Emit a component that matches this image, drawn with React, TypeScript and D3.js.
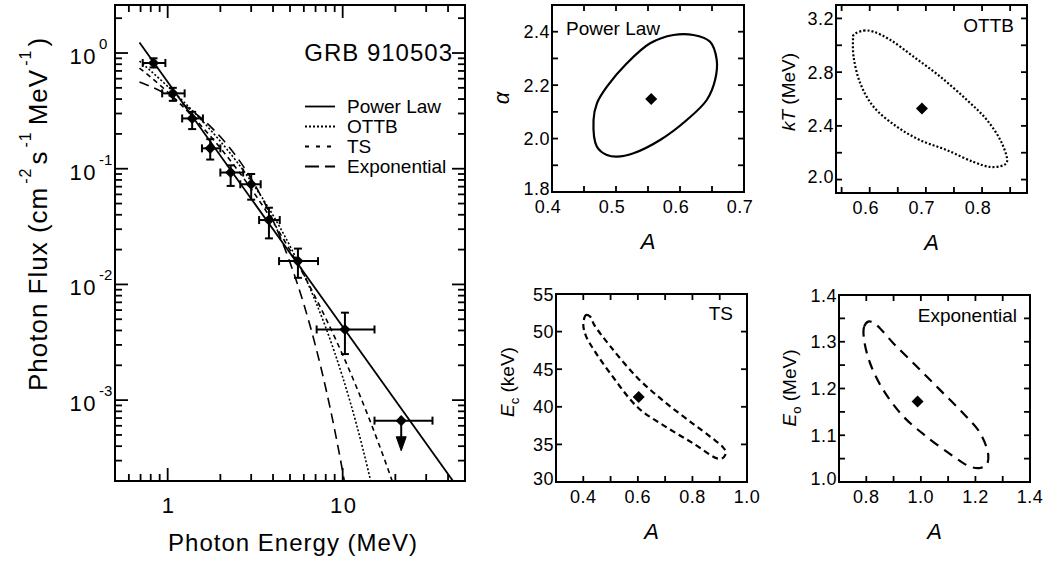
import React from "react";
import * as d3 from "d3";

const FONT = "'Liberation Sans', Arial, Helvetica, sans-serif";

// ---------------- Spectrum of GRB 910503 ----------------
const energy = [0.83, 1.07, 1.38, 1.75, 2.29, 3.0, 3.79, 5.55, 10.3];
const flux = [0.82, 0.448, 0.272, 0.15, 0.0927, 0.0734, 0.036, 0.0159, 0.00408];
const energyLow = [0.72, 0.93, 1.21, 1.57, 2.0, 2.6, 3.33, 4.33, 7.1];
const energyHigh = [0.97, 1.25, 1.59, 2.0, 2.7, 3.4, 4.37, 7.23, 15.2];
const fluxLow = [0.75, 0.386, 0.22, 0.12, 0.071, 0.054, 0.025, 0.0114, 0.0025];
const fluxHigh = [0.9, 0.5, 0.31, 0.18, 0.107, 0.09, 0.046, 0.0204, 0.0057];

// upper limit point
const limitEnergy = [21.6];
const limitEnergyLow = [15.2];
const limitEnergyHigh = [32.6];
const limitFlux = [6.65e-4];
const limitArrowTip = [3.65e-4];

// ---------------- Model curves ----------------
const plEnergy = [0.69, 45];
const plFlux = [1.233, 1.79e-4];

const ottbEnergy = [0.69, 0.8, 1, 1.25, 1.5, 2, 2.5, 3, 4, 5, 6, 7, 8, 9, 10, 11, 12, 13, 14, 15];
const ottbFlux = [0.85, 0.7, 0.515, 0.372, 0.2806, 0.1725, 0.1134, 0.0777, 0.03955, 0.0215, 0.0122, 0.00712,
  0.004248, 0.002576, 0.001581, 0.000982, 0.000614, 0.000387, 0.000245, 0.0001566];

const tsEnergy = [0.69, 0.8, 1, 1.25, 1.5, 2, 2.5, 3, 4, 5, 6, 7, 8, 9, 10, 12, 14, 16, 18, 20];
const tsFlux = [0.741, 0.618, 0.46, 0.3325, 0.2491, 0.1509, 0.0982, 0.0671, 0.0347, 0.01976, 0.01203, 0.00769,
  0.00511, 0.0035, 0.002461, 0.001293, 0.000725, 0.000428, 0.000263, 0.0001668];

const expEnergy = [0.69, 0.8, 1, 1.25, 1.5, 2, 2.5, 3, 4, 5, 6, 7, 8, 9, 10, 11];
const expFlux = [0.5627, 0.5134, 0.4346, 0.3529, 0.2865, 0.1889, 0.1245, 0.0821, 0.03567, 0.0155, 0.006738,
  0.002928, 0.001273, 0.000553, 0.0002404, 0.0001045];

const legendNames = ["Power Law", "OTTB", "TS", "Exponential"];
const mainYLabelValues = [1, 0.1, 0.01, 0.001];
const mainYLabelExps = ["0", "-1", "-2", "-3"];
const mainXLabelValues = [1, 10];
const mainXLabels = ["1", "10"];

// ---------------- Confidence contours ----------------
const plContourA = [0.4649, 0.4702, 0.4858, 0.5014, 0.5273, 0.5689, 0.6106, 0.6418, 0.6548, 0.6574, 0.647, 0.6209,
  0.5897, 0.5533, 0.517, 0.4858, 0.4702];
const plContourAlpha = [2.0695, 1.9696, 1.9385, 1.9321, 1.9449, 1.9946, 2.0695, 2.1444, 2.2192, 2.2941, 2.3626,
  2.3877, 2.3877, 2.3566, 2.2817, 2.1941, 2.132];
const plBest = [0.555, 2.148];
const plXTicks = [0.45, 0.5, 0.55, 0.6, 0.65];
const plXLabels = [0.4, 0.5, 0.6, 0.7];
const plYTicks = [1.9, 2.0, 2.1, 2.2, 2.3, 2.4];
const plYLabels = [1.8, 2.0, 2.2, 2.4];

const ottbContourA = [0.5713, 0.5891, 0.6069, 0.6367, 0.6781, 0.7256, 0.7732, 0.8088, 0.8355, 0.8444, 0.8383,
  0.8147, 0.7849, 0.7376, 0.6901, 0.6486, 0.6069, 0.5833, 0.5713, 0.5703];
const ottbContourKT = [3.077, 3.109, 3.101, 3.04, 2.915, 2.766, 2.592, 2.443, 2.269, 2.131, 2.107, 2.094, 2.131,
  2.219, 2.293, 2.393, 2.542, 2.716, 2.915, 3.04];
const ottbBest = [0.693, 2.53];
const ottbXTicks = [0.55, 0.6, 0.65, 0.7, 0.75, 0.8, 0.85];
const ottbXLabels = [0.6, 0.7, 0.8];
const ottbYTicks = [2.0, 2.2, 2.4, 2.6, 2.8, 3.0, 3.2];
const ottbYLabels = [2.0, 2.4, 2.8, 3.2];

const tsContourA = [0.4, 0.41, 0.425, 0.44, 0.5, 0.6, 0.7, 0.8, 0.87, 0.91, 0.922, 0.915, 0.895, 0.8, 0.7, 0.6, 0.5,
  0.44, 0.41];
const tsContourEc = [51.0, 52.2, 52.0, 50.9, 48.0, 43.8, 40.6, 37.8, 35.9, 34.7, 34.0, 33.3, 33.1, 35.2, 37.4, 39.9,
  44.4, 47.5, 49.4];
const tsBest = [0.603, 41.3];
const tsXTicks = [0.4, 0.5, 0.6, 0.7, 0.8, 0.9];
const tsXLabels = [0.4, 0.6, 0.8, 1.0];
const tsYTicks = [35, 40, 45, 50];
const tsYLabels = [30, 35, 40, 45, 50, 55];

const expContourA = [0.807, 0.792, 0.792, 0.814, 0.862, 0.936, 1.021, 1.119, 1.18, 1.217, 1.241, 1.247, 1.217, 1.155,
  1.07, 0.985, 0.899, 0.85, 0.826];
const expContourE0 = [1.343, 1.332, 1.304, 1.254, 1.197, 1.14, 1.097, 1.055, 1.033, 1.03, 1.037, 1.058, 1.105, 1.147,
  1.197, 1.247, 1.297, 1.329, 1.341];
const expBest = [0.988, 1.172];
const expXTicks = [0.8, 0.9, 1.0, 1.1, 1.2, 1.3];
const expXLabels = [0.8, 1.0, 1.2, 1.4];
const expYTicks = [1.05, 1.1, 1.15, 1.2, 1.25, 1.3, 1.35];
const expYLabels = [1.0, 1.1, 1.2, 1.3, 1.4];

// ---------------- styles ----------------
const PLOT_DASH = { pl: "none", ottb: "2,2", ts: "5,4", exp: "10,6" };
const LEGEND_DASH = ["none", "2,2", "4,7", "14,6"];

const diamond = d3.symbol(d3.symbolSquare, 62)() as string;
const diamondBig = d3.symbol(d3.symbolSquare, 72)() as string;

type PanelProps = {
  x0: number; y0: number; w: number; h: number;
  xDomain: [number, number]; yDomain: [number, number];
  xTicks: number[]; yTicks: number[]; xLabels: number[]; yLabels: number[];
  xFmt: (n: number) => string; yFmt: (n: number) => string;
  xLabelShift: number;
  cx: number[]; cy: number[]; best: number[]; dash: string;
  name: string; nameX: number; nameY: number; nameAnchor: "start" | "end";
  yTitle: React.ReactNode;
};

function Panel(p: PanelProps) {
  const xs = d3.scaleLinear().domain(p.xDomain).range([p.x0, p.x0 + p.w]);
  const ys = d3.scaleLinear().domain(p.yDomain).range([p.y0 + p.h, p.y0]);
  const tl = 6;
  const pts: [number, number][] = p.cx.map((a, i) => [xs(a), ys(p.cy[i])]);
  const path = d3.line().curve(d3.curveCatmullRomClosed.alpha(0.5))(pts) as string;
  const allX = Array.from(new Set([...p.xTicks, ...p.xLabels])).filter(
    (t) => t > p.xDomain[0] + 1e-9 && t < p.xDomain[1] - 1e-9
  );
  const allY = Array.from(new Set([...p.yTicks, ...p.yLabels])).filter(
    (t) => t > p.yDomain[0] + 1e-9 && t < p.yDomain[1] - 1e-9
  );
  const bottom = p.y0 + p.h;
  const right = p.x0 + p.w;
  return (
    <g>
      <path d={path} fill="none" stroke="#000" strokeWidth={2.2} strokeDasharray={p.dash} />
      <path d={diamondBig} transform={`translate(${xs(p.best[0])},${ys(p.best[1])}) rotate(45)`} fill="#000" />
      {allX.map((t, i) => (
        <g key={"xt" + i}>
          <line x1={xs(t)} x2={xs(t)} y1={bottom} y2={bottom - tl} stroke="#000" strokeWidth={1.8} />
          <line x1={xs(t)} x2={xs(t)} y1={p.y0} y2={p.y0 + tl} stroke="#000" strokeWidth={1.8} />
        </g>
      ))}
      {allY.map((t, i) => (
        <g key={"yt" + i}>
          <line x1={p.x0} x2={p.x0 + tl} y1={ys(t)} y2={ys(t)} stroke="#000" strokeWidth={1.8} />
          <line x1={right} x2={right - tl} y1={ys(t)} y2={ys(t)} stroke="#000" strokeWidth={1.8} />
        </g>
      ))}
      <rect x={p.x0} y={p.y0} width={p.w} height={p.h} fill="none" stroke="#000" strokeWidth={2} />
      {p.xLabels.map((t, i) => (
        <text
          key={"xl" + i}
          x={xs(t) + p.xLabelShift}
          y={bottom + 21}
          textAnchor="middle"
          fontSize={18}
          letterSpacing={0.5}
        >
          {p.xFmt(t)}
        </text>
      ))}
      {p.yLabels.map((t, i) => (
        <text
          key={"yl" + i}
          x={p.x0 - 2}
          y={ys(t) + (i === 0 ? 3 : 6.5)}
          textAnchor="end"
          fontSize={18}
          letterSpacing={0.5}
        >
          {p.yFmt(t)}
        </text>
      ))}
      <text x={p.x0 + p.w / 2} y={bottom + 57} textAnchor="middle" fontSize={22} fontStyle="italic">
        A
      </text>
      <text x={p.nameX} y={p.nameY} textAnchor={p.nameAnchor} fontSize={19}>
        {p.name}
      </text>
      {p.yTitle}
    </g>
  );
}

export default function App() {
  const xMain = d3.scaleLog().domain([0.5, 50]).range([115, 465]);
  const yMain = d3.scaleLog().domain([2e-4, 2.6]).range([481, 5]);
  const X0 = 115, X1 = 465, Y0 = 5, Y1 = 481;

  const isMajor = (t: number) => Math.abs(Math.log10(t) - Math.round(Math.log10(t))) < 1e-6;
  const xT = xMain.ticks().filter((t) => t > 0.5 + 1e-9 && t < 50 - 1e-9);
  const yT = yMain.ticks().filter((t) => t > 2e-4 * 1.0001 && t < 2.6);

  const line = d3
    .line<[number, number]>()
    .x((d) => xMain(d[0]))
    .y((d) => yMain(d[1]))
    .curve(d3.curveMonotoneX);

  const curves = [
    { e: plEnergy, f: plFlux, dash: PLOT_DASH.pl, w: 1.8 },
    { e: ottbEnergy, f: ottbFlux, dash: PLOT_DASH.ottb, w: 1.6 },
    { e: tsEnergy, f: tsFlux, dash: PLOT_DASH.ts, w: 1.6 },
    { e: expEnergy, f: expFlux, dash: PLOT_DASH.exp, w: 1.6 },
  ];

  const f1 = d3.format(".1f");
  const fd = d3.format("d");

  return (
    <svg
      width={1045}
      height={562}
      style={{ position: "absolute", left: 0, top: 0, background: "#fff" }}
      fontFamily={FONT}
    >
      <rect x={0} y={0} width={1045} height={562} fill="#fff" />
      <defs>
        <clipPath id="mainclip">
          <rect x={X0} y={Y0} width={X1 - X0} height={Y1 - Y0} />
        </clipPath>
      </defs>

      {/* ---------- main spectrum ---------- */}
      <g clipPath="url(#mainclip)">
        {curves.map((c, i) => (
          <path
            key={i}
            d={line(d3.zip(c.e, c.f) as [number, number][]) as string}
            fill="none"
            stroke="#000"
            strokeWidth={c.w}
            strokeDasharray={c.dash}
          />
        ))}
      </g>

      {energy.map((e, i) => {
        const x = xMain(e), y = yMain(flux[i]);
        const xl = xMain(energyLow[i]), xh = xMain(energyHigh[i]);
        const yl = yMain(fluxLow[i]), yh = yMain(fluxHigh[i]);
        return (
          <g key={"pt" + i} stroke="#000" strokeWidth={2}>
            <line x1={xl} x2={xh} y1={y} y2={y} />
            <line x1={xl} x2={xl} y1={y - 4} y2={y + 4} />
            <line x1={xh} x2={xh} y1={y - 4} y2={y + 4} />
            <line x1={x} x2={x} y1={yl} y2={yh} />
            <line x1={x - 4} x2={x + 4} y1={yl} y2={yl} />
            <line x1={x - 4} x2={x + 4} y1={yh} y2={yh} />
            <path d={diamond} transform={`translate(${x},${y}) rotate(45)`} fill="#000" stroke="none" />
          </g>
        );
      })}

      {limitEnergy.map((e, i) => {
        const x = xMain(e), y = yMain(limitFlux[i]);
        const xl = xMain(limitEnergyLow[i]), xh = xMain(limitEnergyHigh[i]);
        const tip = yMain(limitArrowTip[i]);
        return (
          <g key={"ul" + i} stroke="#000" strokeWidth={2}>
            <line x1={xl} x2={xh} y1={y} y2={y} />
            <line x1={xl} x2={xl} y1={y - 4} y2={y + 4} />
            <line x1={xh} x2={xh} y1={y - 4} y2={y + 4} />
            <line x1={x} x2={x} y1={y} y2={tip - 12} />
            <path d={`M${x - 5},${tip - 14} L${x + 5},${tip - 14} L${x},${tip} Z`} fill="#000" strokeWidth={1} />
            <path d={diamond} transform={`translate(${x},${y}) rotate(45)`} fill="#000" stroke="none" />
          </g>
        );
      })}

      {/* ticks */}
      {xT.map((t, i) => {
        const len = isMajor(t) ? 13 : 7;
        return (
          <g key={"mx" + i} stroke="#000" strokeWidth={1.8}>
            <line x1={xMain(t)} x2={xMain(t)} y1={Y1} y2={Y1 - len} />
            <line x1={xMain(t)} x2={xMain(t)} y1={Y0} y2={Y0 + len} />
          </g>
        );
      })}
      {yT.map((t, i) => {
        const len = isMajor(t) ? 13 : 7;
        return (
          <g key={"my" + i} stroke="#000" strokeWidth={1.8}>
            <line x1={X0} x2={X0 + len} y1={yMain(t)} y2={yMain(t)} />
            <line x1={X1} x2={X1 - len} y1={yMain(t)} y2={yMain(t)} />
          </g>
        );
      })}
      <rect x={X0} y={Y0} width={X1 - X0} height={Y1 - Y0} fill="none" stroke="#000" strokeWidth={2} />

      {mainXLabelValues.map((v, i) => (
        <text key={"mxl" + i} x={xMain(v) + 1} y={513} textAnchor="middle" fontSize={22} letterSpacing={1.5}>
          {mainXLabels[i]}
        </text>
      ))}
      {mainYLabelValues.map((v, i) => (
        <g key={"myl" + i}>
          <text x={97} y={yMain(v) + 11} textAnchor="end" fontSize={22} letterSpacing={1.5}>
            10
          </text>
          <text x={99} y={yMain(v) - 4} textAnchor="start" fontSize={15}>
            {mainYLabelExps[i]}
          </text>
        </g>
      ))}

      <text x={293} y={551} textAnchor="middle" fontSize={24} letterSpacing={1}>
        Photon Energy (MeV)
      </text>
      <text transform="translate(47,214) rotate(-90)" textAnchor="middle" fontSize={26} letterSpacing={1}>
        Photon Flux (cm
        <tspan dx={3} dy={-16} fontSize={16}>-2</tspan>
        <tspan dx={3} dy={16}>s</tspan>
        <tspan dx={3} dy={-16} fontSize={16}>-1</tspan>
        <tspan dx={6} dy={16}>MeV</tspan>
        <tspan dx={3} dy={-16} fontSize={16}>-1</tspan>
        <tspan dx={3} dy={16}>)</tspan>
      </text>

      <text x={453} y={61} textAnchor="end" fontSize={24} letterSpacing={1}>
        GRB 910503
      </text>

      {legendNames.map((n, i) => (
        <g key={"lg" + i}>
          <line
            x1={305}
            x2={335}
            y1={106.5 + i * 20}
            y2={106.5 + i * 20}
            stroke="#000"
            strokeWidth={1.8}
            strokeDasharray={LEGEND_DASH[i]}
          />
          <text x={347} y={113 + i * 20} fontSize={19}>
            {n}
          </text>
        </g>
      ))}

      {/* ---------- contour panels ---------- */}
      <Panel
        x0={552} y0={5} w={192} h={187}
        xDomain={[0.4, 0.7]} yDomain={[1.8, 2.5]}
        xTicks={plXTicks} yTicks={plYTicks} xLabels={plXLabels} yLabels={plYLabels}
        xFmt={f1} yFmt={f1} xLabelShift={-4}
        cx={plContourA} cy={plContourAlpha} best={plBest} dash="none"
        name="Power Law" nameX={566} nameY={35} nameAnchor="start"
        yTitle={
          <text transform="translate(509,98) rotate(-90)" textAnchor="middle" fontSize={22} fontStyle="italic">
            α
          </text>
        }
      />
      <Panel
        x0={836} y0={5} w={191} h={188}
        xDomain={[0.54, 0.88]} yDomain={[1.9, 3.3]}
        xTicks={ottbXTicks} yTicks={ottbYTicks} xLabels={ottbXLabels} yLabels={ottbYLabels}
        xFmt={f1} yFmt={f1} xLabelShift={-4}
        cx={ottbContourA} cy={ottbContourKT} best={ottbBest} dash="2,2"
        name="OTTB" nameX={1014} nameY={32} nameAnchor="end"
        yTitle={
          <text transform="translate(795,92) rotate(-90)" textAnchor="middle" fontSize={19}>
            <tspan fontStyle="italic">kT</tspan> (MeV)
          </text>
        }
      />
      <Panel
        x0={556} y0={294} w={191} h={188}
        xDomain={[0.3, 1.0]} yDomain={[30, 55]}
        xTicks={tsXTicks} yTicks={tsYTicks} xLabels={tsXLabels} yLabels={tsYLabels}
        xFmt={f1} yFmt={fd} xLabelShift={0}
        cx={tsContourA} cy={tsContourEc} best={tsBest} dash="6,4"
        name="TS" nameX={733} nameY={320} nameAnchor="end"
        yTitle={
          <text transform="translate(514,382) rotate(-90)" textAnchor="middle" fontSize={19}>
            <tspan fontStyle="italic">E</tspan>
            <tspan dy={5} fontSize={13}>c</tspan>
            <tspan dy={-5}> (keV)</tspan>
          </text>
        }
      />
      <Panel
        x0={839} y0={295} w={191} h={187}
        xDomain={[0.7, 1.4]} yDomain={[1.0, 1.4]}
        xTicks={expXTicks} yTicks={expYTicks} xLabels={expXLabels} yLabels={expYLabels}
        xFmt={f1} yFmt={f1} xLabelShift={0}
        cx={expContourA} cy={expContourE0} best={expBest} dash="10,7"
        name="Exponential" nameX={1017} nameY={322} nameAnchor="end"
        yTitle={
          <text transform="translate(796,388) rotate(-90)" textAnchor="middle" fontSize={19}>
            <tspan fontStyle="italic">E</tspan>
            <tspan dy={5} fontSize={13}>o</tspan>
            <tspan dy={-5}> (MeV)</tspan>
          </text>
        }
      />
    </svg>
  );
}
